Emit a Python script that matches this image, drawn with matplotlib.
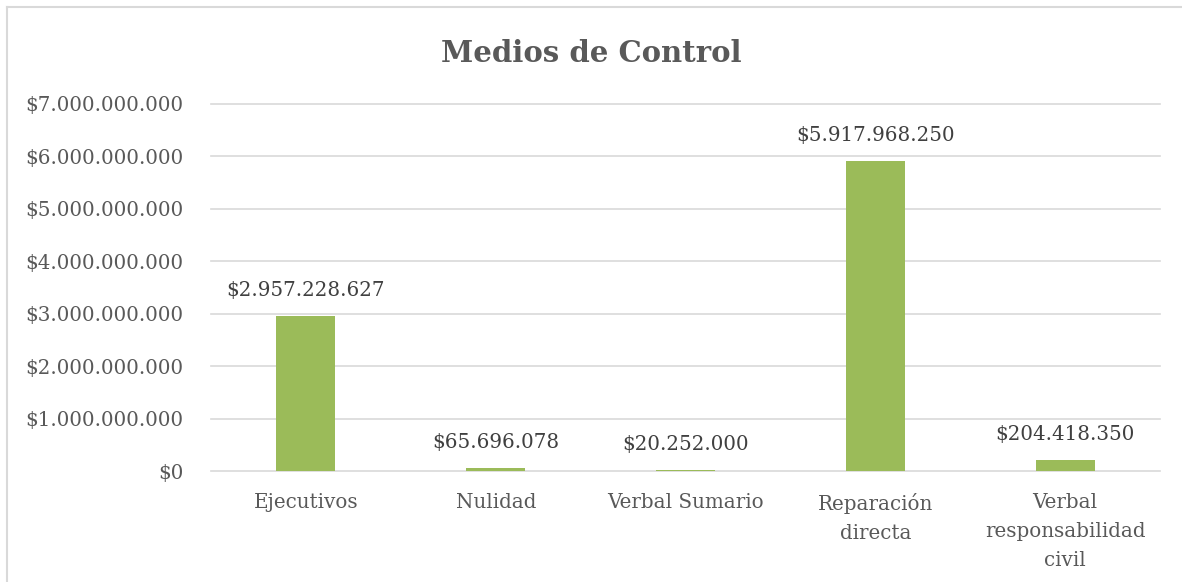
import matplotlib.pyplot as plt
from matplotlib.lines import Line2D
import numpy as np

categorias = ["Ejecutivos", "Nulidad", "Verbal Sumario", "Reparación\ndirecta",
              "Verbal\nresponsabilidad\ncivil"]
valores = [2957228627, 65696078, 20252000, 5917968250, 204418350]
ticks_y = [0, 1e9, 2e9, 3e9, 4e9, 5e9, 6e9, 7e9]


def pesos(v):
    return "$" + f"{int(round(v)):,}".replace(",", ".")


gris = "#595959"
verde = "#9BBB59"
plt.rcParams['font.family'] = ['DejaVu Serif']

fig = plt.figure(figsize=(11.82, 5.82), dpi=100)
ax = fig.add_axes([211 / 1182, 1 - 471 / 582, (1160 - 211) / 1182, (471 - 104) / 582])

x = np.arange(len(categorias))
ax.bar(x, valores, width=0.31, color=verde, zorder=3)
for xi, v in zip(x, valores):
    ax.annotate(pesos(v), (xi, v), xytext=(0, 11.5), textcoords="offset points",
                ha="center", va="bottom", fontsize=14.3, color="#404040")

ax.set_xlim(-0.5, len(categorias) - 0.5)
ax.set_ylim(0, 7e9)
ax.set_yticks(ticks_y)
ax.set_yticklabels([pesos(t) for t in ticks_y])
ax.set_xticks(x)
ax.set_xticklabels(categorias, linespacing=1.65)
ax.tick_params(axis="both", length=0, labelsize=14.3, labelcolor=gris)
ax.tick_params(axis="x", pad=16)
ax.tick_params(axis="y", pad=20)
ax.grid(axis="y", color="#D9D9D9", linewidth=1.2, zorder=0)
for gl in ax.get_ygridlines():
    gl.set_clip_on(False)
for s in ax.spines.values():
    s.set_visible(False)

fig.text(0.5, 1 - 53 / 582, "Medios de Control", ha="center", va="center",
         fontsize=21, fontweight="bold", color=gris)

# chart area border (only left and top visible in the crop)
fig.add_artist(Line2D([7 / 1182, 7 / 1182], [0, 1 - 7 / 582], transform=fig.transFigure,
                      color="#D9D9D9", linewidth=1.5))
fig.add_artist(Line2D([7 / 1182, 1], [1 - 7 / 582, 1 - 7 / 582], transform=fig.transFigure,
                      color="#D9D9D9", linewidth=1.5))

fig.savefig("out.png", dpi=100)
